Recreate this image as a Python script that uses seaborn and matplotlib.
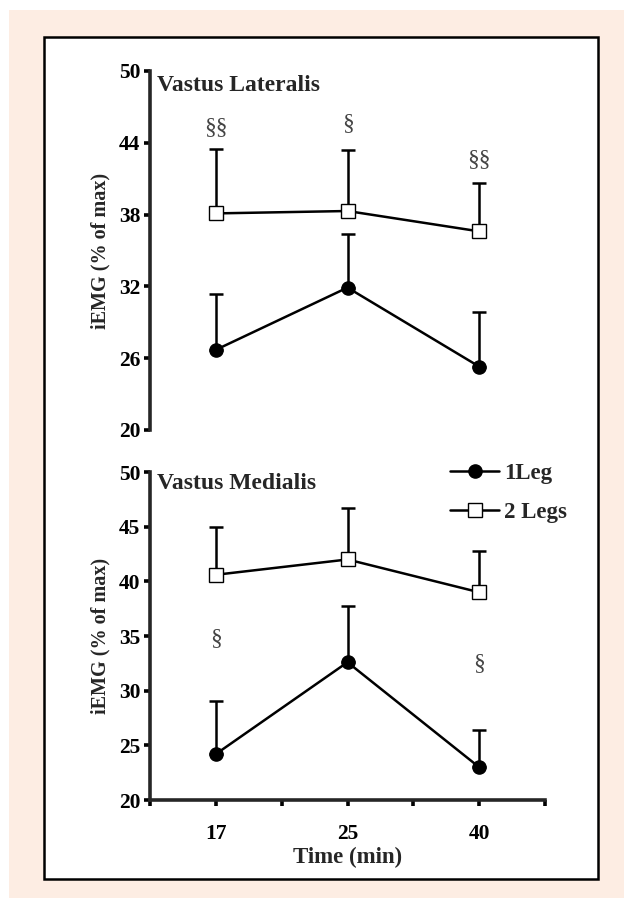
import numpy as np
import pandas as pd
import matplotlib
matplotlib.use("Agg")
import matplotlib.pyplot as plt
from matplotlib.patches import Rectangle
from matplotlib.lines import Line2D
import seaborn as sns

# ---------------- data ----------------
times = ["17", "25", "40"]
groups = ["1Leg", "2 Legs"]

vl_one_mean = [26.7, 31.9, 25.3]
vl_one_sd = [4.7, 4.5, 4.6]
vl_two_mean = [38.1, 38.3, 36.6]
vl_two_sd = [5.4, 5.1, 4.0]
vl_sig_labels = ["§§", "§", "§§"]
vl_sig_y = [45.3, 45.6, 42.6]

vm_one_mean = [24.2, 32.6, 23.0]
vm_one_sd = [4.9, 5.1, 3.4]
vm_two_mean = [40.6, 42.0, 39.0]
vm_two_sd = [4.4, 4.7, 3.8]
vm_sig_labels = ["§", "", "§"]
vm_sig_y = [34.8, 0, 32.5]

vl_yticks = [20, 26, 32, 38, 44, 50]
vm_yticks = [20, 25, 30, 35, 40, 45, 50]

# ---------------- style ----------------
sns.set_style("ticks")
plt.rcParams["font.family"] = ["Liberation Serif", "DejaVu Serif"]
plt.rcParams["font.weight"] = "bold"

W, H = 624, 898
fig = plt.figure(figsize=(W / 100, H / 100), dpi=100)
fig.patch.set_facecolor("white")

# background peach panel and white framed box
fig.patches.append(Rectangle((9 / W, 0), 1 - 9 / W, 1 - 10 / H, transform=fig.transFigure,
                             facecolor="#fdede3", edgecolor="none", zorder=-10))
fig.patches.append(Rectangle((44 / W, 1 - 879 / H), (598 - 44) / W, (879 - 37) / H,
                             transform=fig.transFigure, facecolor="white",
                             edgecolor="black", linewidth=1.8, zorder=-9))

left = 150 / W
width = 395 / W
ax_top = fig.add_axes([left, 1 - 430 / H, width, 359 / H])
ax_bot = fig.add_axes([left, 1 - 800 / H, width, 328 / H])

xpos = np.arange(len(times)) * 2 + 1

LW = 1.8
SPINE = 2.6
TICKFS = 15.5


def draw_panel(ax, one_m, one_sd, two_m, two_sd, sig_labels, sig_y, yticks, title, title_y):
    ax.set_facecolor("none")
    df = pd.DataFrame({
        "x": np.concatenate([xpos, xpos]),
        "y": np.concatenate([one_m, two_m]),
        "group": [groups[0]] * len(times) + [groups[1]] * len(times),
    })
    for g, mk, fc, ms, m, sd in [(groups[0], "o", "black", 9.5, one_m, one_sd),
                                (groups[1], "s", "white", 10, two_m, two_sd)]:
        ax.errorbar(xpos, m, yerr=[np.zeros(len(m)), sd], fmt="none", ecolor="black",
                    elinewidth=1.8, capsize=4.8, capthick=1.8, zorder=2)
        sns.lineplot(data=df[df["group"] == g], x="x", y="y", ax=ax, color="black",
                     linewidth=LW, marker=mk, markersize=ms, markerfacecolor=fc,
                     markeredgecolor="black", markeredgewidth=1.0, legend=False,
                     zorder=3, estimator=None)
    for xp, lab, yy in zip(xpos, sig_labels, sig_y):
        if lab:
            ax.text(xp, yy, lab, ha="center", va="center", fontsize=17,
                    fontweight="normal", color="#444444")
    ax.set_xlim(0, 6)
    ax.set_ylim(20, 50)
    ax.set_yticks(yticks)
    ax.set_yticklabels([str(t) for t in yticks])
    ax.tick_params(axis="y", direction="out", length=4, width=SPINE, pad=3,
                   labelsize=TICKFS, colors="black")
    ax.set_ylabel("iEMG (% of max)", fontsize=14.5, fontweight="bold", labelpad=6)
    ax.set_xlabel("")
    for s in ["top", "right"]:
        ax.spines[s].set_visible(False)
    ax.spines["left"].set_linewidth(SPINE)
    ax.spines["bottom"].set_linewidth(SPINE)
    ax.text(0.018, title_y, title, transform=ax.transAxes, ha="left", va="center",
            fontsize=17, fontweight="bold")


draw_panel(ax_top, vl_one_mean, vl_one_sd, vl_two_mean, vl_two_sd, vl_sig_labels, vl_sig_y,
           vl_yticks, "Vastus Lateralis", 0.961)
draw_panel(ax_bot, vm_one_mean, vm_one_sd, vm_two_mean, vm_two_sd, vm_sig_labels, vm_sig_y,
           vm_yticks, "Vastus Medialis", 0.965)

# top panel: no x axis
ax_top.spines["bottom"].set_visible(False)
ax_top.set_xticks([])

# bottom x axis
ax_bot.set_xticks(range(0, 7))
xlabels = [""] * 7
for xp, t in zip(xpos, times):
    xlabels[xp] = t
ax_bot.set_xticklabels(xlabels)
ax_bot.tick_params(axis="x", direction="out", length=4, width=SPINE, pad=13,
                   labelsize=TICKFS, colors="black")
ax_bot.set_xlabel("Time (min)", fontsize=16.5, fontweight="bold", labelpad=2)

# legend
handles = [
    Line2D([], [], color="black", lw=LW, marker="o", markersize=9.5,
           markerfacecolor="black", markeredgecolor="black"),
    Line2D([], [], color="black", lw=LW, marker="s", markersize=10,
           markerfacecolor="white", markeredgecolor="black", markeredgewidth=1.0),
]
ax_bot.legend(handles, groups, loc="upper left", bbox_to_anchor=(450 / W, 1 - 463 / H),
              bbox_transform=fig.transFigure, frameon=False, borderpad=0,
              borderaxespad=0, handlelength=2.15, handletextpad=0.2,
              labelspacing=0.8, prop={"family": "Liberation Serif", "weight": "bold", "size": 16.5})

fig.savefig("out.png", dpi=100, facecolor=fig.get_facecolor())
